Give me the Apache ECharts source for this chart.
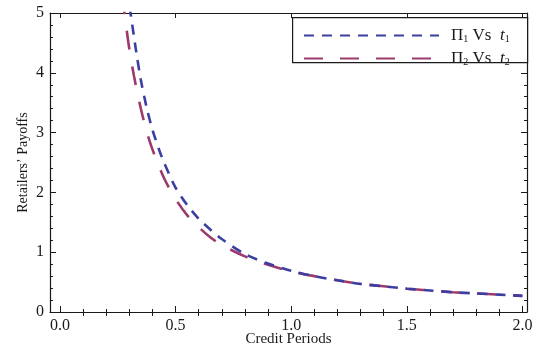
<!DOCTYPE html>
<html>
<head>
<meta charset="utf-8">
<script src="https://cdn.jsdelivr.net/npm/echarts@6/dist/echarts.min.js"></script>
<style>
  html, body { margin: 0; padding: 0; background: #fff; }
  #chart { width: 534px; height: 349px; }
</style>
</head>
<body>
<div id="chart"></div>
<script>
// credit periods (x) and payoffs
const t1 = [0.29, 0.306, 0.33, 0.35, 0.375, 0.40, 0.43, 0.45, 0.50, 0.55, 0.60, 0.65, 0.70, 0.80, 0.90, 1.00, 1.10, 1.20, 1.30, 1.40, 1.50, 1.60, 1.70, 1.80, 1.90, 2.00];
const pi1 = [5.4, 4.98, 4.35, 3.88, 3.42, 3.05, 2.70, 2.50, 2.08, 1.79, 1.56, 1.38, 1.22, 0.97, 0.81, 0.69, 0.60, 0.53, 0.47, 0.43, 0.39, 0.36, 0.33, 0.31, 0.29, 0.27];
const t2 = [0.27, 0.28, 0.30, 0.32, 0.35, 0.375, 0.40, 0.45, 0.50, 0.55, 0.60, 0.65, 0.70, 0.80, 0.90, 1.00, 1.10, 1.20, 1.30, 1.40, 1.50, 1.60, 1.70, 1.80, 1.90, 2.00];
const pi2 = [5.3, 4.97, 4.40, 3.95, 3.40, 3.02, 2.72, 2.24, 1.89, 1.62, 1.42, 1.25, 1.12, 0.93, 0.79, 0.68, 0.60, 0.53, 0.47, 0.43, 0.39, 0.36, 0.33, 0.31, 0.29, 0.27];

const xMajor = [0, 0.5, 1, 1.5, 2];
const xMinor = [0.1, 0.2, 0.3, 0.4, 0.6, 0.7, 0.8, 0.9, 1.1, 1.2, 1.3, 1.4, 1.6, 1.7, 1.8, 1.9];

const font = 'Liberation Serif';
const ink = '#1a1a1a';

const chart = echarts.init(document.getElementById('chart'));

const xBase = {
  type: 'value', min: -0.043, max: 2.02,
  splitLine: { show: false },
  axisLine: { show: true, onZero: false, lineStyle: { color: ink, width: 1.2 } }
};

const xAxes = [
  Object.assign({}, xBase, {
    position: 'bottom',
    axisTick: { inside: true, length: 6, customValues: xMajor, lineStyle: { color: ink } },
    axisLabel: { customValues: xMajor, formatter: v => v.toFixed(1), color: ink, fontFamily: font, fontSize: 16, margin: 6 },
    name: 'Credit Periods', nameLocation: 'middle', nameGap: 20, nameMoveOverlap: false,
    nameTextStyle: { color: ink, fontFamily: font, fontSize: 15 }
  }),
  Object.assign({}, xBase, {
    position: 'bottom', axisLine: { show: false },
    axisTick: { inside: true, length: 3, customValues: xMinor, lineStyle: { color: ink } },
    axisLabel: { show: false }
  }),
  Object.assign({}, xBase, {
    position: 'top',
    axisTick: { inside: true, length: 5, customValues: xMajor, lineStyle: { color: ink } },
    axisLabel: { show: false }
  }),
  Object.assign({}, xBase, {
    position: 'top', axisLine: { show: false },
    axisTick: { inside: true, length: 4, customValues: xMinor, lineStyle: { color: ink } },
    axisLabel: { show: false }
  })
];

const yBase = {
  type: 'value', min: 0, max: 5, interval: 1,
  splitLine: { show: false },
  axisLine: { show: true, onZero: false, lineStyle: { color: ink, width: 1.2 } },
  axisTick: { inside: true, length: 6, lineStyle: { color: ink } },
  minorTick: { show: true, splitNumber: 5, length: 3, lineStyle: { color: ink } }
};

const yAxes = [
  Object.assign({}, yBase, {
    position: 'left',
    axisLabel: { color: ink, fontFamily: font, fontSize: 16, margin: 6 },
    name: 'Retailers\u2019 Payoffs', nameLocation: 'middle', nameGap: 20, nameMoveOverlap: false,
    nameTextStyle: { color: ink, fontFamily: font, fontSize: 14 }
  }),
  Object.assign({}, yBase, {
    position: 'right',
    axisLabel: { show: false }
  })
];

const rich = {
  sub: { fontFamily: font, fontSize: 10, color: ink, verticalAlign: 'bottom', padding: [6, 0, 0, 0] },
  it: { fontFamily: font, fontSize: 17, fontStyle: 'italic', color: ink },
  n: { fontFamily: font, fontSize: 17, color: ink }
};

const labels = {
  'Pi1': '{n|\u03A0}{sub|1}{n| Vs  }{it|t}{sub|1}',
  'Pi2': '{n|\u03A0}{sub|2}{n| Vs  }{it|t}{sub|2}'
};

const option = {
  animation: false,
  grid: { left: 50, right: 7, top: 13, bottom: 37, outerBoundsMode: 'none', containLabel: false },
  xAxis: xAxes,
  yAxis: yAxes,
  graphic: [{
    type: 'rect', left: 292, top: 17, z: 90,
    shape: { width: 235, height: 45 },
    style: { fill: '#fff', stroke: ink, lineWidth: 1.2 }
  }],
  legend: {
    left: 298, top: 22, orient: 'vertical', z: 100,
    itemWidth: 135, itemHeight: 10, itemGap: 6,
    data: ['Pi1', 'Pi2'],
    formatter: name => labels[name],
    itemStyle: { opacity: 0 },
    textStyle: { rich: rich, padding: [0, 0, 0, 7] }
  },
  series: [
    {
      name: 'Pi1', type: 'line', symbol: 'none', smooth: 0.3,
      data: t1.map((x, i) => [x, pi1[i]]),
      lineStyle: { color: '#3c3ea2', width: 2.6, type: [10, 8] },
      itemStyle: { color: '#3c3ea2' }, z: 3
    },
    {
      name: 'Pi2', type: 'line', symbol: 'none', smooth: 0.3,
      data: t2.map((x, i) => [x, pi2[i]]),
      lineStyle: { color: '#9c3a6c', width: 2.6, type: [19, 17] },
      itemStyle: { color: '#9c3a6c' }, z: 2
    }
  ]
};

chart.setOption(option);
</script>
</body>
</html>
